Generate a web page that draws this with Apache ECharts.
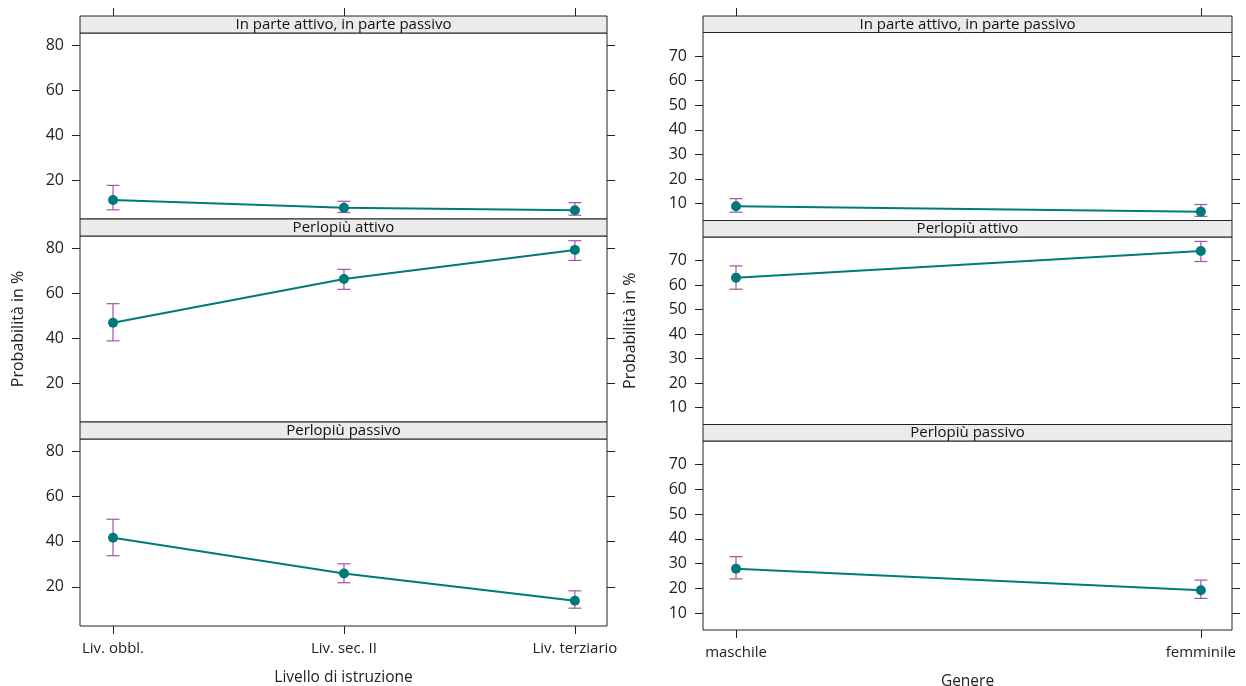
<!DOCTYPE html>
<html>
<head>
<meta charset="utf-8">
<script src="https://cdn.jsdelivr.net/npm/echarts@6/dist/echarts.min.js"></script>
<style>
html,body{margin:0;padding:0;background:#fff;}
#chart{width:1246px;height:686px;}
</style>
</head>
<body>
<div id="chart"></div>
<script>
// ---- data ----
const panelTitles = ['In parte attivo, in parte passivo', 'Perlopiù attivo', 'Perlopiù passivo'];
const eduCats = ['Liv. obbl.', 'Liv. sec. II', 'Liv. terziario'];
const genCats = ['maschile', 'femminile'];
const eduTitle = 'Livello di istruzione';
const genTitle = 'Genere';
const yTitle = 'Probabilità in %';

const eduMixed = [11.1, 7.6, 6.5];
const eduMixedLo = [6.7, 5.5, 4.3];
const eduMixedHi = [17.6, 10.5, 9.9];
const eduActive = [46.9, 66.4, 79.4];
const eduActiveLo = [38.8, 61.8, 74.7];
const eduActiveHi = [55.4, 70.7, 83.5];
const eduPassive = [41.8, 25.9, 13.8];
const eduPassiveLo = [33.8, 21.8, 10.5];
const eduPassiveHi = [50.0, 30.2, 18.2];

const genMixed = [8.9, 6.7];
const genMixedLo = [6.5, 4.8];
const genMixedHi = [12.0, 9.6];
const genActive = [63.0, 73.9];
const genActiveLo = [58.3, 69.6];
const genActiveHi = [67.8, 77.8];
const genPassive = [27.9, 19.2];
const genPassiveLo = [23.8, 15.9];
const genPassiveHi = [32.8, 23.3];

const leftYTicks = [20, 40, 60, 80];
const rightYTicks = [10, 20, 30, 40, 50, 60, 70];

// ---- styling / layout ----
const TEAL = '#007a78';
const PURPLE = '#a552a8';
const FONT = 'Open Sans';
const STRIP_FONT = 'Open Sans';
const BORDER = '#222';

const sides = [
  {
    cats: eduCats, xTitle: eduTitle, yTicks: leftYTicks, yMin: 2.6, yMax: 85.6,
    xMin: -0.143, xMax: 2.139,
    left: 80, width: 527,
    tops: [33, 236, 439], heights: [186, 186, 187], stripH: 17,
    nameGap: 54, xNameGap: 44,
    vals: [eduMixed, eduActive, eduPassive],
    los: [eduMixedLo, eduActiveLo, eduPassiveLo],
    his: [eduMixedHi, eduActiveHi, eduPassiveHi]
  },
  {
    cats: genCats, xTitle: genTitle, yTicks: rightYTicks, yMin: 3.1, yMax: 79.6,
    xMin: -0.071, xMax: 1.067,
    left: 703, width: 529,
    tops: [32.5, 237, 441], heights: [188, 187.5, 189], stripH: 16.5,
    nameGap: 65, xNameGap: 44,
    vals: [genMixed, genActive, genPassive],
    los: [genMixedLo, genActiveLo, genPassiveLo],
    his: [genMixedHi, genActiveHi, genPassiveHi]
  }
];

const grid = [], xAxis = [], yAxis = [], series = [], graphic = [];

sides.forEach((s, si) => {
  for (let p = 0; p < 3; p++) {
    const gi = grid.length;
    grid.push({
      left: s.left, top: s.tops[p], width: s.width, height: s.heights[p],
      outerBoundsMode: 'none', containLabel: false,
      show: true, borderColor: BORDER, borderWidth: 1, backgroundColor: '#fff'
    });
    const idxVals = s.cats.map((c, i) => i);
    const isBottom = p === 2;
    // bottom x axis
    xAxis.push({
      type: 'value', gridIndex: gi, min: s.xMin, max: s.xMax, position: 'bottom',
      splitLine: { show: false },
      axisLine: { show: false, onZero: false },
      axisTick: { show: isBottom, inside: false, length: 8, customValues: idxVals, lineStyle: { color: BORDER } },
      axisLabel: {
        show: isBottom, customValues: idxVals, margin: 15,
        formatter: v => s.cats[Math.round(v)] || '',
        color: '#222', fontFamily: FONT, fontSize: 15
      },
      name: isBottom ? s.xTitle : '', nameLocation: 'middle', nameGap: s.xNameGap,
      nameTextStyle: { color: '#222', fontFamily: FONT, fontSize: 15.5 }
    });
    const xIndex = xAxis.length - 1;
    // top ticks for top panel
    if (p === 0) {
      xAxis.push({
        type: 'value', gridIndex: gi, min: s.xMin, max: s.xMax, position: 'top', offset: s.stripH,
        splitLine: { show: false }, axisLine: { show: false, onZero: false },
        axisTick: { show: true, length: 8, customValues: idxVals, lineStyle: { color: BORDER } },
        axisLabel: { show: false }
      });
    }
    // left y axis
    yAxis.push({
      type: 'value', gridIndex: gi, min: s.yMin, max: s.yMax, position: 'left',
      splitLine: { show: false }, axisLine: { show: false, onZero: false },
      axisTick: { show: true, length: 8, customValues: s.yTicks, lineStyle: { color: BORDER } },
      axisLabel: { customValues: s.yTicks, margin: 16, color: '#222', fontFamily: FONT, fontSize: 16 },
      name: p === 1 ? yTitle : '', nameLocation: 'middle', nameGap: s.nameGap,
      nameTextStyle: { color: '#222', fontFamily: FONT, fontSize: 16 }
    });
    const yLeftIndex = yAxis.length - 1;
    // right y ticks
    yAxis.push({
      type: 'value', gridIndex: gi, min: s.yMin, max: s.yMax, position: 'right',
      splitLine: { show: false }, axisLine: { show: false, onZero: false },
      axisTick: { show: true, length: 8, customValues: s.yTicks, lineStyle: { color: BORDER } },
      axisLabel: { show: false }
    });

    const lineData = s.vals[p].map((v, i) => [i, v]);
    const errData = s.vals[p].map((v, i) => [i, s.los[p][i], s.his[p][i]]);

    series.push({
      type: 'custom', xAxisIndex: xIndex, yAxisIndex: yLeftIndex, z: 2,
      data: errData, encode: { x: 0, y: [1, 2] }, silent: true,
      renderItem: (params, api) => {
        const x = api.value(0);
        const lo = api.coord([x, api.value(1)]);
        const hi = api.coord([x, api.value(2)]);
        const w = 6.5;
        const st = { stroke: PURPLE, lineWidth: 1.2 };
        return {
          type: 'group', children: [
            { type: 'line', shape: { x1: lo[0], y1: lo[1], x2: hi[0], y2: hi[1] }, style: st },
            { type: 'line', shape: { x1: lo[0] - w, y1: lo[1], x2: lo[0] + w, y2: lo[1] }, style: st },
            { type: 'line', shape: { x1: hi[0] - w, y1: hi[1], x2: hi[0] + w, y2: hi[1] }, style: st }
          ]
        };
      }
    });
    series.push({
      type: 'line', xAxisIndex: xIndex, yAxisIndex: yLeftIndex, z: 3,
      data: lineData, symbol: 'circle', symbolSize: 10, silent: true,
      lineStyle: { color: TEAL, width: 2 }, itemStyle: { color: TEAL },
      animation: false
    });

    // strip
    graphic.push({
      type: 'rect', z: 100,
      shape: { x: s.left, y: s.tops[p] - s.stripH, width: s.width, height: s.stripH },
      style: { fill: '#ebebeb', stroke: BORDER, lineWidth: 1 }
    });
    graphic.push({
      type: 'text', z: 101,
      x: s.left + s.width / 2, y: s.tops[p] - s.stripH / 2,
      style: {
        text: panelTitles[p], fill: '#111', font: '15px "' + STRIP_FONT + '"',
        textAlign: 'center', textVerticalAlign: 'middle'
      }
    });
  }
});

const chart = echarts.init(document.getElementById('chart'), null, { renderer: 'canvas' });
chart.setOption({
  animation: false,
  backgroundColor: '#fff',
  grid, xAxis, yAxis, series, graphic
});
</script>
</body>
</html>
